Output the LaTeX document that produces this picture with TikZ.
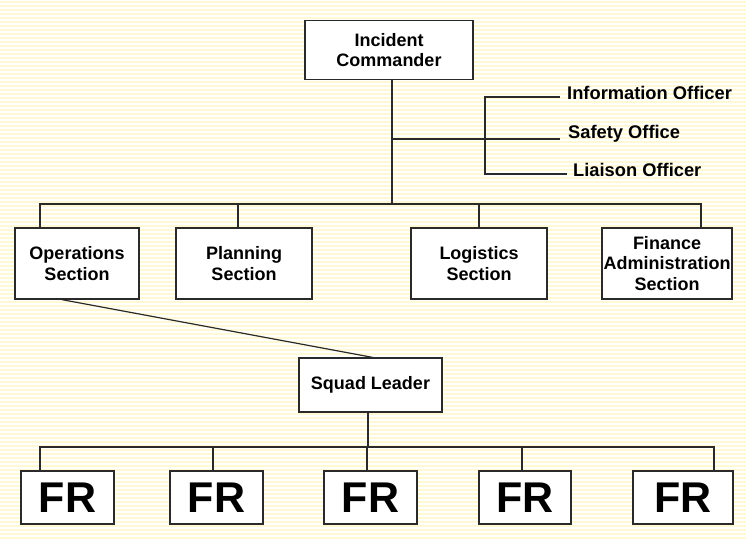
\documentclass[tikz,border=0pt]{standalone}
\usepackage{fontspec}
\setmainfont{Liberation Sans}
\definecolor{stripe}{HTML}{FFFAD2}
\definecolor{edge}{HTML}{2A2A2A}
\begin{document}
\begin{tikzpicture}[x=1pt,y=-1pt,
  box/.style={draw=edge,line width=1.3pt,fill=white,inner sep=0pt,align=center,
    font=\fontsize{18}{20.5}\selectfont\bfseries},
  frbox/.style={box,minimum height=53pt,font=\fontsize{43}{44}\selectfont\bfseries},
  staff/.style={anchor=west,inner sep=0pt,font=\fontsize{18.3}{20}\selectfont\bfseries},
  wire/.style={draw=edge,line width=1.2pt}]
\useasboundingbox (0,0) rectangle (746,538);
\fill[white] (0,0) rectangle (746,538);
\foreach \y in {1,5,...,537} \fill[stripe] (0,\y) rectangle (746,\y+2);

% nodes
\node[box,minimum width=168pt,minimum height=59pt] (ic) at (389,50) {Incident\\Commander};
\node[box,minimum width=124pt,minimum height=71pt] (ops) at (77,263.5) {Operations\\Section};
\node[box,minimum width=136pt,minimum height=71pt] (plan) at (244,263.5) {Planning\\Section};
\node[box,minimum width=136pt,minimum height=71pt] (log) at (479,263.5) {Logistics\\Section};
\node[box,minimum width=130pt,minimum height=71pt] (fin) at (667,263.5) {Finance\\Administration\\Section};
\node[box,minimum width=143pt,minimum height=54pt] (squad) at (370.5,385) {Squad Leader};
\node[frbox,minimum width=93pt] (fr1) at (67.5,497.5) {FR};
\node[frbox,minimum width=93pt] (fr2) at (216.5,497.5) {FR};
\node[frbox,minimum width=93pt] (fr3) at (370.5,497.5) {FR};
\node[frbox,minimum width=92pt] (fr4) at (525,497.5) {FR};
\node[frbox,minimum width=100pt] (fr5) at (683,497.5) {FR};

\node[staff] (info) at (567,93) {Information Officer};
\node[staff] (safe) at (568,134) {Safety Office};
\node[staff] (liai) at (573,170) {Liaison Officer};

% junction coordinates
\coordinate (icb) at (392,204);
\coordinate (stj) at (392,139);
\coordinate (stv) at (485,139);
\coordinate (e1) at (560,97);
\coordinate (e2) at (560,139);
\coordinate (e3) at (567,174);
\coordinate (b1) at (40,204);
\coordinate (b2) at (238,204);
\coordinate (b3) at (479,204);
\coordinate (b4) at (701,204);
\coordinate (sqb) at (368,447);
\coordinate (f1) at (40,447);
\coordinate (f2) at (213,447);
\coordinate (f3) at (367,447);
\coordinate (f4) at (522,447);
\coordinate (f5) at (714,447);

% commander and staff
\draw[wire] (icb |- ic.south) -- (icb);
\draw[wire] (stj) -- (stv);
\draw[wire] (e1) -| (e3 -| stv) -- (e3);
\draw[wire] (stv) -- (e2);

% sections bus
\draw[wire] (b1 |- ops.north) -- (b1) -- (b4) -- (b4 |- fin.north);
\draw[wire] (b2) -- (b2 |- plan.north);
\draw[wire] (b3) -- (b3 |- log.north);

% operations to squad leader
\draw[wire] ([xshift=-15pt]ops.south) -- ([xshift=2pt]squad.north);

% squad bus
\draw[wire] (sqb |- squad.south) -- (sqb);
\draw[wire] (f1 |- fr1.north) -- (f1) -- (f5) -- (f5 |- fr5.north);
\draw[wire] (f2) -- (f2 |- fr2.north);
\draw[wire] (f3) -- (f3 |- fr3.north);
\draw[wire] (f4) -- (f4 |- fr4.north);
\end{tikzpicture}
\end{document}
